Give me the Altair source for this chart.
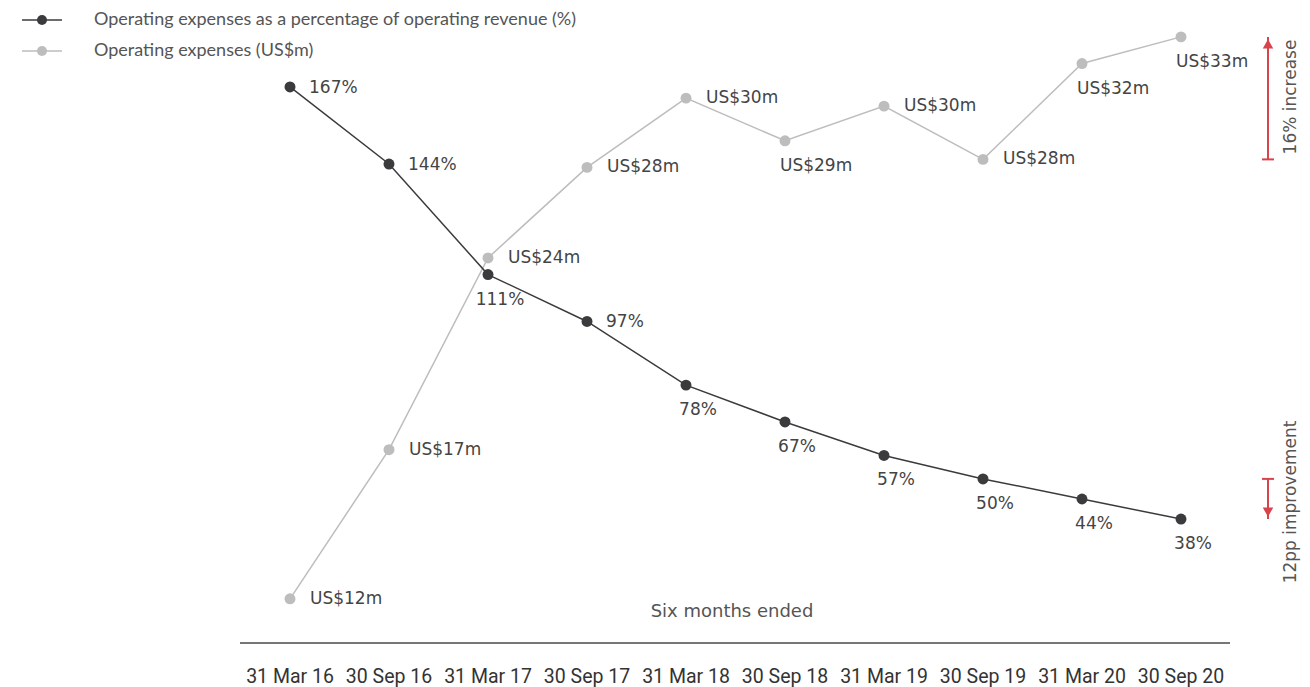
import altair as alt
import pandas as pd

periods = ["31 Mar 16", "30 Sep 16", "31 Mar 17", "30 Sep 17", "31 Mar 18",
           "30 Sep 18", "31 Mar 19", "30 Sep 19", "31 Mar 20", "30 Sep 20"]
pct = [167, 144, 111, 97, 78, 67, 57, 50, 44, 38]
usd = [11.6, 17.2, 24.4, 27.8, 30.4, 28.8, 30.1, 28.1, 31.7, 32.7]
usd_labels = ["US$12m", "US$17m", "US$24m", "US$28m", "US$30m",
              "US$29m", "US$30m", "US$28m", "US$32m", "US$33m"]
pct_labels = [f"{v}%" for v in pct]
legend_labels = ["Operating expenses as a percentage of operating revenue (%)",
                 "Operating expenses (US$m)"]

DARK = "#3b3b3d"
LIGHT = "#bdbdbd"
RED = "#d9434b"
TXT = "#444444"
W, H = 1294, 679

df = pd.DataFrame({
    "idx": list(range(len(periods))),
    "period": periods,
    "pct": pct,
    "usd": usd,
    "pct_label": pct_labels,
    "usd_label": usd_labels,
})

# x: index 0 -> view 282, 99 px per step
xs = alt.Scale(domain=[-282 / 99, (W - 282) / 99], nice=False, zero=False)
ys_pct = alt.Scale(domain=[-12.12, 190.57], nice=False, zero=False)
ys_usd = alt.Scale(domain=[8.288, 33.785], nice=False, zero=False)

X = alt.X("idx:Q", scale=xs, axis=None)
Yp = alt.Y("pct:Q", scale=ys_pct, axis=None)
Yu = alt.Y("usd:Q", scale=ys_usd, axis=None)

base = alt.Chart(df)

pct_line = base.mark_line(color=DARK, strokeWidth=1.5).encode(x=X, y=Yp)
pct_pts = base.mark_circle(color=DARK, size=120, opacity=1).encode(x=X, y=Yp)
usd_line = base.mark_line(color=LIGHT, strokeWidth=1.5).encode(x=X, y=Yu)
usd_pts = base.mark_circle(color=LIGHT, size=120, opacity=1).encode(x=X, y=Yu)

lab = dict(font="DejaVu Sans", fontSize=17, color=TXT)
pct_right = base.transform_filter("indexof([0,1,3], datum.idx) >= 0").mark_text(
    align="left", baseline="middle", dx=19, dy=1, **lab).encode(x=X, y=Yp, text="pct_label:N")
pct_below = base.transform_filter("indexof([0,1,3], datum.idx) < 0").mark_text(
    align="center", baseline="middle", dx=12, dy=25, **lab).encode(x=X, y=Yp, text="pct_label:N")
usd_right = base.transform_filter("indexof([5,8,9], datum.idx) < 0").mark_text(
    align="left", baseline="middle", dx=20, dy=0, **lab).encode(x=X, y=Yu, text="usd_label:N")
usd_below = base.transform_filter("indexof([5,8,9], datum.idx) >= 0").mark_text(
    align="left", baseline="middle", dx=-5, dy=25, **lab).encode(x=X, y=Yu, text="usd_label:N")

x_labels = base.mark_text(font="Roboto", fontSize=19.5, color="#333333", baseline="middle").encode(
    x=X, y=alt.value(669), text="period:N")

axis_line = alt.Chart(pd.DataFrame({"a": [0]})).mark_rule(color="#777777", strokeWidth=2).encode(
    x=alt.value(232), x2=alt.value(1222), y=alt.value(635))
x_title = alt.Chart(pd.DataFrame({"t": ["Six months ended"]})).mark_text(
    font="DejaVu Sans", fontSize=18, color="#555555", baseline="middle").encode(
    x=alt.value(724), y=alt.value(604), text="t:N")

# annotation arrows tied to data
inc = pd.DataFrame({"y1": [usd[7]], "y2": [usd[9]], "t": ["16% increase"]})
imp = pd.DataFrame({"y1": [pct[7]], "y2": [pct[9]], "t": ["12pp improvement"]})
AX = 1260
inc_rule = alt.Chart(inc).mark_rule(color=RED, strokeWidth=2).encode(
    x=alt.value(AX), y=alt.Y("y1:Q", scale=ys_usd, axis=None), y2=alt.Y2("y2:Q"))
inc_tick = alt.Chart(inc).mark_rule(color=RED, strokeWidth=2).encode(
    x=alt.value(AX - 6), x2=alt.value(AX + 6), y=alt.Y("y1:Q", scale=ys_usd, axis=None))
inc_head = alt.Chart(inc).mark_point(shape="triangle-up", filled=True, color=RED, size=110,
                                     opacity=1, yOffset=7).encode(
    x=alt.value(AX), y=alt.Y("y2:Q", scale=ys_usd, axis=None))
inc_text = alt.Chart(inc).mark_text(angle=270, font="DejaVu Sans", fontSize=17, color="#555555",
                                    baseline="middle").encode(
    x=alt.value(1283), y=alt.value(89), text="t:N")

imp_rule = alt.Chart(imp).mark_rule(color=RED, strokeWidth=2).encode(
    x=alt.value(AX), y=alt.Y("y1:Q", scale=ys_pct, axis=None), y2=alt.Y2("y2:Q"))
imp_tick = alt.Chart(imp).mark_rule(color=RED, strokeWidth=2).encode(
    x=alt.value(AX - 6), x2=alt.value(AX + 6), y=alt.Y("y1:Q", scale=ys_pct, axis=None))
imp_head = alt.Chart(imp).mark_point(shape="triangle-down", filled=True, color=RED, size=110,
                                     opacity=1, yOffset=-7).encode(
    x=alt.value(AX), y=alt.Y("y2:Q", scale=ys_pct, axis=None))
imp_text = alt.Chart(imp).mark_text(angle=270, font="DejaVu Sans", fontSize=17, color="#555555",
                                    baseline="middle").encode(
    x=alt.value(1283), y=alt.value(494), text="t:N")

# legend
leg = pd.DataFrame({"label": legend_labels, "row": [0, 1], "col": [DARK, LIGHT]})
leg_y = alt.Y("row:Q", scale=alt.Scale(domain=[0, 1], range=[12, 43]), axis=None)
leg_line = alt.Chart(leg).mark_rule(strokeWidth=1.5).encode(
    x=alt.value(14), x2=alt.value(54), y=leg_y, color=alt.Color("col:N", scale=None))
leg_dot = alt.Chart(leg).mark_circle(size=100, opacity=1).encode(
    x=alt.value(34), y=leg_y, color=alt.Color("col:N", scale=None))
leg_text = alt.Chart(leg).mark_text(align="left", baseline="middle", font="Lato", fontSize=18,
                                    color="#555555").encode(
    x=alt.value(86), y=leg_y, text="label:N")

chart = alt.layer(
    axis_line, x_labels, x_title,
    usd_line, usd_pts, usd_right, usd_below,
    pct_line, pct_pts, pct_right, pct_below,
    inc_rule, inc_tick, inc_head, inc_text,
    imp_rule, imp_tick, imp_head, imp_text,
    leg_line, leg_dot, leg_text,
).resolve_scale(y="independent", color="independent").properties(
    width=W, height=H, padding=0, autosize=alt.AutoSizeParams(type="none")
).configure_view(stroke=None)

chart.save("out.html", embed_options={"renderer": "svg", "actions": False})
